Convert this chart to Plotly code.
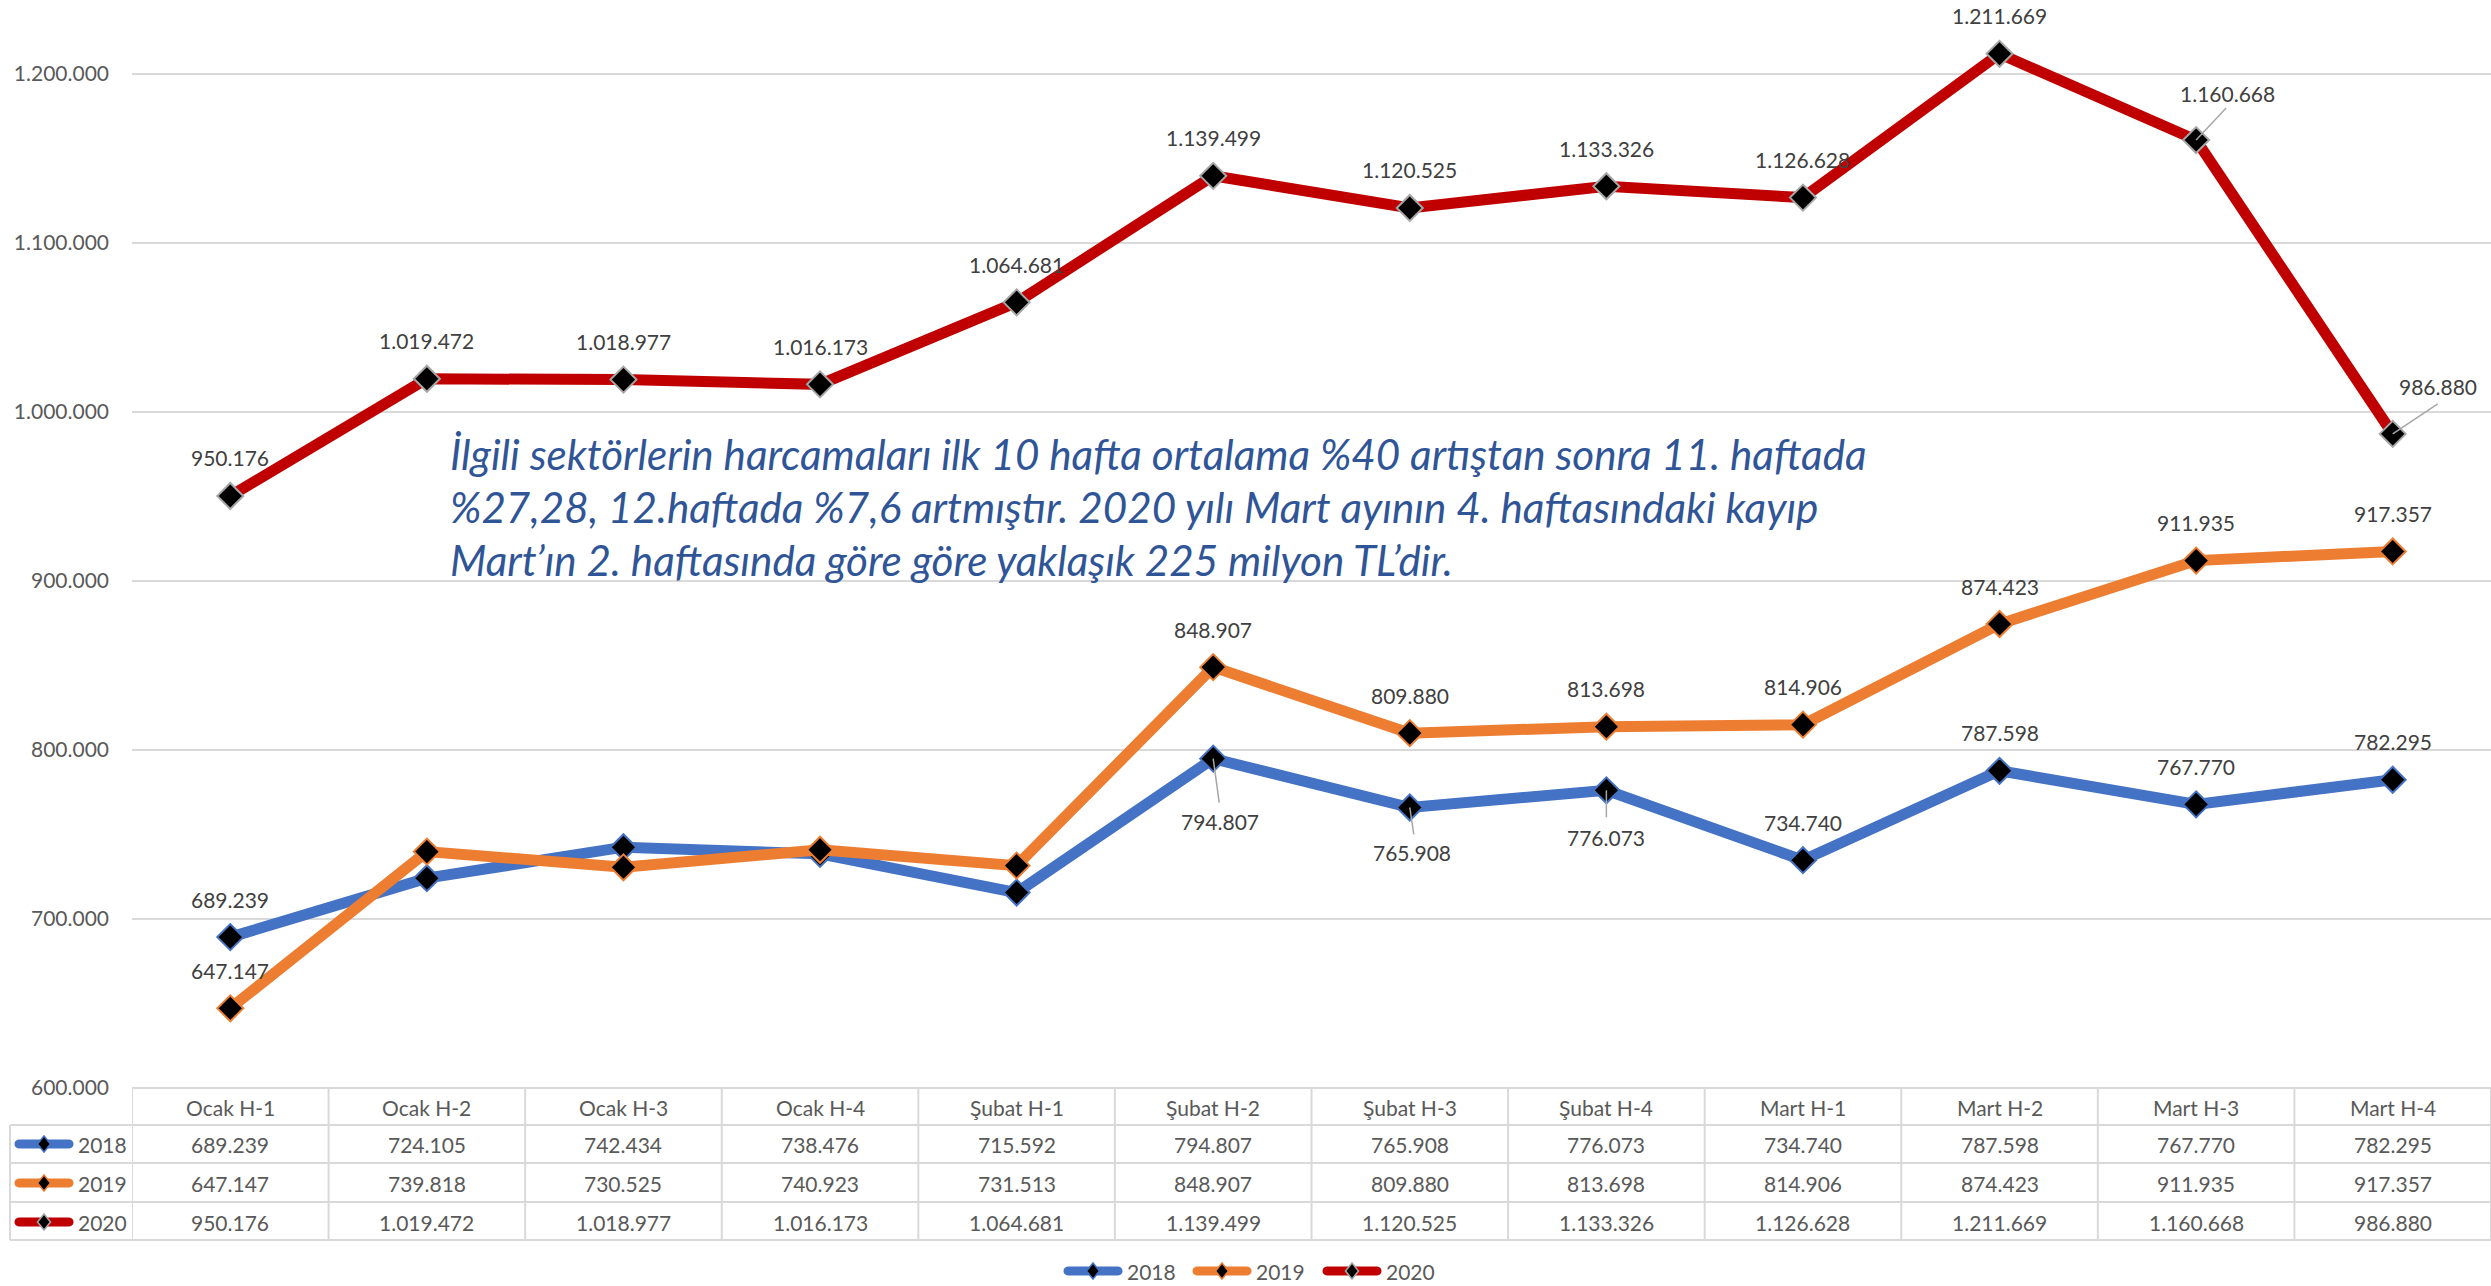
import plotly.graph_objects as go

# ---------------- data ----------------
categories = ["Ocak H-1", "Ocak H-2", "Ocak H-3", "Ocak H-4",
              "Şubat H-1", "Şubat H-2", "Şubat H-3", "Şubat H-4",
              "Mart H-1", "Mart H-2", "Mart H-3", "Mart H-4"]
years = ["2018", "2019", "2020"]
v2018 = [689239, 724105, 742434, 738476, 715592, 794807, 765908, 776073, 734740, 787598, 767770, 782295]
v2019 = [647147, 739818, 730525, 740923, 731513, 848907, 809880, 813698, 814906, 874423, 911935, 917357]
v2020 = [950176, 1019472, 1018977, 1016173, 1064681, 1139499, 1120525, 1133326, 1126628, 1211669, 1160668, 986880]
y_ticks = [600000, 700000, 800000, 900000, 1000000, 1100000, 1200000]
note_lines = [
    "İlgili sektörlerin harcamaları ilk 10 hafta ortalama %40 artıştan sonra 11. haftada",
    "%27,28, 12.haftada %7,6 artmıştır. 2020 yılı Mart ayının 4. haftasındaki kayıp",
    "Mart’ın 2. haftasında göre göre yaklaşık 225 milyon TL’dir.",
]
series_values = {"2018": v2018, "2019": v2019, "2020": v2020}

# ---------------- styles ----------------
W, H = 2491, 1286
ML, MB = 132, 198
PW, PH = W - ML, H - MB
FONT = "Lato"
GRAY = "#595959"
LABEL = "#404040"
GRID = "#D9D9D9"
line_colors = {"2018": "#4472C4", "2019": "#ED7D31", "2020": "#C00000"}
marker_borders = {"2018": "#4472C4", "2019": "#ED7D31", "2020": "#A6A6A6"}
labeled_idx = {"2018": [0, 5, 6, 7, 8, 9, 10, 11],
               "2019": [0, 5, 6, 7, 8, 9, 10, 11],
               "2020": list(range(12))}
# special label placement: (dx, dy_down) of label centre, leader end (dx, dy_up) in px
label_special = {("2018", 5): ((7, 63), (6, -44)),
                 ("2018", 6): ((2, 45), (4, -27)),
                 ("2018", 7): ((0, 47), (0, -27)),
                 ("2020", 10): ((31, -47), (30, 32)),
                 ("2020", 11): ((45, -47), (45, 30))}
LABEL_SHIFT = 38


def fmt(v):
    return f"{v:,}".replace(",", ".")


def pxx(px):
    return (px - ML) / PW


def pxy(py):
    return (PH - py) / PH


x_idx = list(range(len(categories)))

fig = go.Figure()
for yr in years:
    fig.add_trace(go.Scatter(
        x=x_idx, y=series_values[yr], name=yr, mode="lines+markers",
        line=dict(color=line_colors[yr], width=11),
        marker=dict(symbol="diamond", size=20, color="black",
                    line=dict(color=marker_borders[yr], width=2)),
        cliponaxis=False, showlegend=False,
    ))

annotations = []
shapes = []
# data labels
for yr in years:
    vals = series_values[yr]
    for i in labeled_idx[yr]:
        if (yr, i) in label_special:
            (dx, dy), (lx, ly) = label_special[(yr, i)]
            shapes.append(dict(type="line", xref="x", yref="y",
                               xsizemode="pixel", ysizemode="pixel",
                               xanchor=i, yanchor=vals[i], x0=0, y0=0, x1=lx, y1=ly,
                               line=dict(color="#A6A6A6", width=1.5), layer="above"))
        else:
            dx, dy = 0, -LABEL_SHIFT
        annotations.append(dict(
            x=i, y=vals[i], xref="x", yref="y", text=fmt(vals[i]),
            showarrow=False, xshift=dx, yshift=-dy, xanchor="center", yanchor="middle",
            font=dict(family=FONT, size=21, color=LABEL)))

# note text
note_y = [453, 506, 559]
for line, py in zip(note_lines, note_y):
    annotations.append(dict(
        x=pxx(448), y=pxy(py), xref="paper", yref="paper", xanchor="left",
        yanchor="middle", showarrow=False, text="<i>" + line + "</i>",
        font=dict(family=FONT, size=42.2, color="#2F5597")))

# data table
header_c = 1107
row_c = [1144, 1183, 1222]
for i, c in enumerate(categories):
    annotations.append(dict(x=i, y=pxy(header_c), xref="x", yref="paper",
                            xanchor="center", yanchor="middle",
                            text=c, showarrow=False,
                            font=dict(family=FONT, size=21, color=GRAY)))
    for r, yr in enumerate(years):
        annotations.append(dict(x=i, y=pxy(row_c[r]), xref="x", yref="paper",
                                xanchor="center", yanchor="middle",
                                text=fmt(series_values[yr][i]), showarrow=False,
                                font=dict(family=FONT, size=21, color=GRAY)))

stadium = "M -25,4.5 L 25,4.5 C 31,4.5 31,-4.5 25,-4.5 L -25,-4.5 C -31,-4.5 -31,4.5 -25,4.5 Z"
diamond = "M 0,8 L 6.5,0 L 0,-8 L -6.5,0 Z"


def add_key(yr, cx, cy, tx):
    common = dict(xref="paper", yref="paper", xsizemode="pixel", ysizemode="pixel",
                  xanchor=pxx(cx), yanchor=pxy(cy))
    shapes.append(dict(type="path", path=stadium, fillcolor=line_colors[yr],
                       line=dict(width=0), **common))
    shapes.append(dict(type="path", path=diamond, fillcolor="black",
                       line=dict(color=marker_borders[yr], width=1.5), **common))
    annotations.append(dict(x=pxx(tx), y=pxy(cy), xref="paper", yref="paper",
                            xanchor="left", yanchor="middle", text=yr, showarrow=False,
                            font=dict(family=FONT, size=21, color=GRAY)))


# row keys in the table
for r, yr in enumerate(years):
    add_key(yr, 44, row_c[r], 76)
# bottom legend
for yr, cx in zip(years, [1093, 1222, 1352]):
    add_key(yr, cx, 1271, cx + 32)

# table grid
shapes.append(dict(type="line", xref="paper", yref="paper", x0=0, x1=1,
                   y0=pxy(1088), y1=pxy(1088), line=dict(color=GRID, width=2)))
for py in [1125, 1163, 1202, 1240]:
    shapes.append(dict(type="line", xref="paper", yref="paper", x0=pxx(10), x1=1,
                       y0=pxy(py), y1=pxy(py), line=dict(color=GRID, width=2)))
for k in range(len(categories) + 1):
    shapes.append(dict(type="line", xref="x", yref="paper", x0=k - 0.5, x1=k - 0.5,
                       y0=pxy(1088), y1=pxy(1240), line=dict(color=GRID, width=2)))
shapes.append(dict(type="line", xref="paper", yref="paper", x0=pxx(10), x1=pxx(10),
                   y0=pxy(1125), y1=pxy(1240), line=dict(color=GRID, width=2)))

fig.update_layout(
    width=W, height=H,
    margin=dict(l=ML, r=0, t=0, b=MB, pad=0),
    paper_bgcolor="white", plot_bgcolor="white",
    font=dict(family=FONT, size=21, color=GRAY),
    showlegend=False,
    xaxis=dict(range=[-0.5, 11.5], showticklabels=False, showgrid=False,
               zeroline=False, showline=False, fixedrange=True),
    yaxis=dict(range=[600000, 1243500], tickvals=y_ticks,
               ticktext=[fmt(v) for v in y_ticks], showgrid=True, gridcolor=GRID,
               gridwidth=2, zeroline=False, showline=False, ticks="",
               ticklabelstandoff=22, tickfont=dict(family=FONT, size=21, color=GRAY)),
    annotations=annotations,
    shapes=shapes,
)

fig.write_html("out.html", config={"displayModeBar": False},
               post_script="document.body.style.margin='0';document.body.style.overflow='hidden';")
